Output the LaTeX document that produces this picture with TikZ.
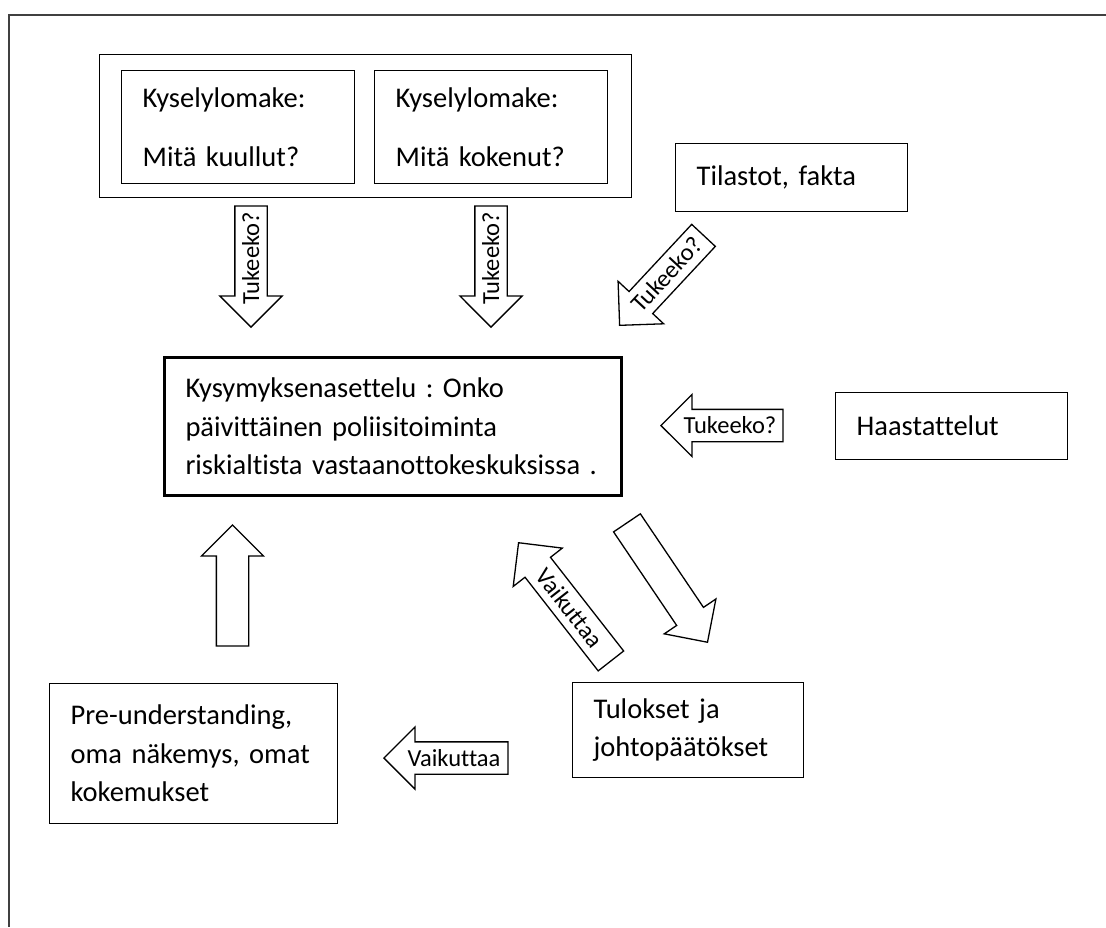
\documentclass[tikz,border=0pt]{standalone}
\usepackage{fontspec}
\setmainfont{Carlito}[Ligatures=CommonOff]
\frenchspacing
\usetikzlibrary{shapes.arrows}
\tikzset{
        laatikko/.style={draw, line width=1.3pt, anchor=north west, align=left, inner xsep=21pt, inner ysep=0pt, font=\fontsize{28.5}{38.5}\selectfont},
        nuoli/.style={single arrow, draw, line width=1.3pt, anchor=tip, single arrow head extend=15pt, inner xsep=0pt, inner ysep=7.5pt, text height=16pt, text depth=0pt, font=\fontsize{24.5}{27}\selectfont}
}
\begin{document}
\begin{tikzpicture}[x=1pt, y=-1pt]
        \useasboundingbox (0,0) rectangle (1106,927);
        \draw[line width=1.2pt, black!75] (1106,15) -- (9,15) -- (9,927);
        \node[draw, line width=1.3pt, anchor=north west, minimum width=532pt, minimum height=143pt, inner sep=0pt] (kyselyt) at (99,54) {};
        \node[laatikko, text width=191pt, minimum height=113pt] (kuullut) at (121,70) {Kyselylomake:\\[21pt]Mitä kuullut?};
        \node[laatikko, text width=191pt, minimum height=113pt] (kokenut) at (374,70) {Kyselylomake:\\[21pt]Mitä kokenut?};
        \node[laatikko, text width=190pt, minimum height=68pt] (tilastot) at (675,143) {Tilastot, fakta};
        \node[laatikko, line width=3pt, text width=415pt, minimum height=138pt] (kysymys) at (163,356) {Kysymyksenasettelu : Onko\\päivittäinen poliisitoiminta\\riskialtista vastaanottokeskuksissa .};
        \node[laatikko, text width=190pt, minimum height=67pt] (haast) at (835,392) {Haastattelut};
        \node[laatikko, text width=246pt, minimum height=140pt] (pre) at (49,683) {Pre-understanding,\\oma näkemys, omat\\kokemukset};
        \node[laatikko, text width=189pt, minimum height=95pt] (tulokset) at (572,682) {Tulokset ja\\johtopäätökset};

        \node[nuoli, rotate=90, shape border rotate=180, minimum height=121pt] (tuk1) at (251,328) {Tukeeko?};
        \node[nuoli, rotate=90, shape border rotate=180, minimum height=121pt] (tuk2) at (491,328) {Tukeeko?};
        \node[nuoli, rotate=47, shape border rotate=180, minimum height=123pt] (tuk3) at (619,326) {Tukeeko?};
        \node[nuoli, shape border rotate=180, minimum height=122pt] (tuk4) at (660,425.5) {Tukeeko?};
        \node[nuoli, rotate=90, minimum height=121pt] (yl) at (232.5,524) {};
        \node[nuoli, rotate=-52, shape border rotate=180, minimum height=150pt] (vaik1) at (518,542) {Vaikuttaa};
        \node[nuoli, rotate=-56, minimum height=144pt] (al) at (708,643) {};
        \node[nuoli, shape border rotate=180, minimum height=124pt] (vaik2) at (383,758) {Vaikuttaa};
\end{tikzpicture}
\end{document}
